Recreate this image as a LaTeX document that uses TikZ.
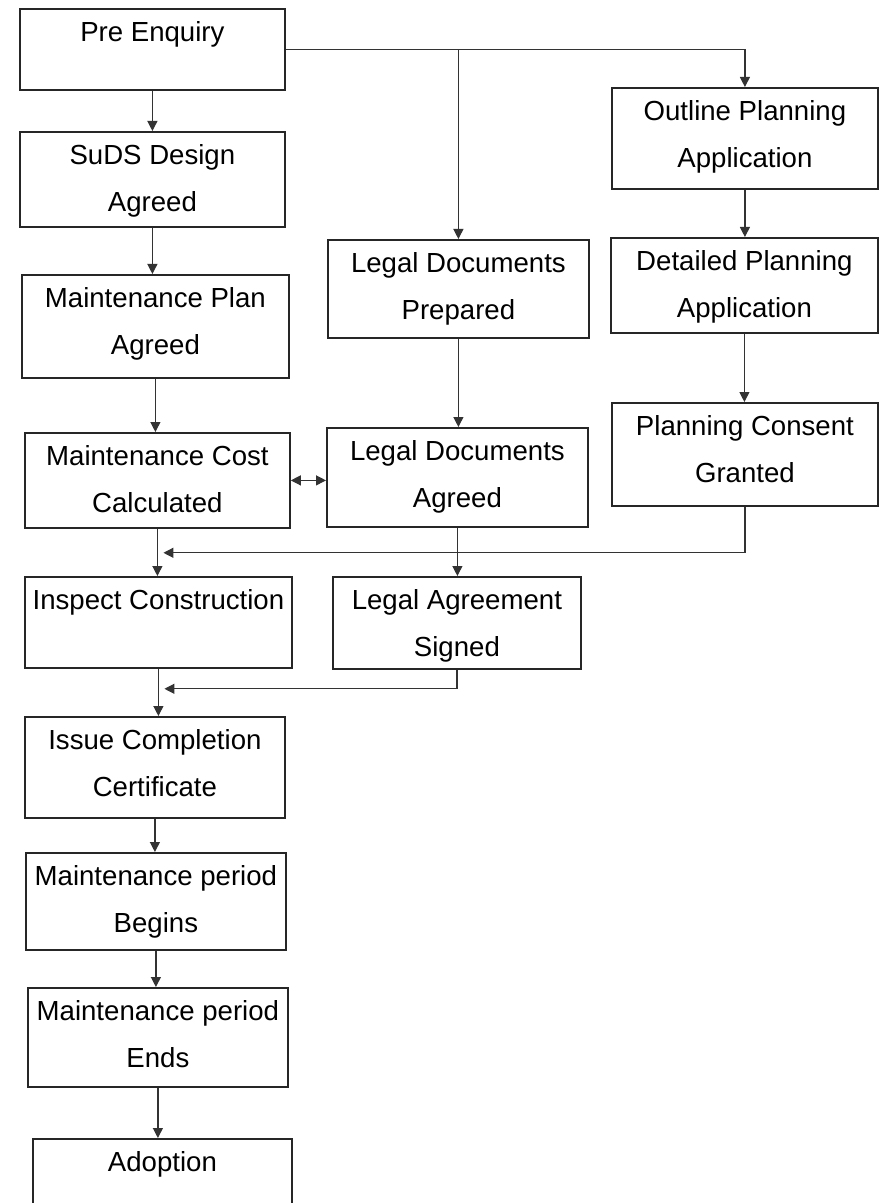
\documentclass[tikz,border=0pt]{standalone}
\usepackage{fontspec}
\setmainfont{Liberation Sans}
\usetikzlibrary{arrows.meta}

\tikzset{
	stage/.style={draw=black!85, line width=0.9pt, inner sep=0pt, align=flush center,
		anchor=north west, text height=16.3pt,
		font=\fontsize{13.8pt}{23.5pt}\selectfont},
	flow/.style={draw=black!80, line width=0.6pt, ->},
	>={Triangle[length=5pt,width=5pt]}
}

\begin{document}
\begin{tikzpicture}[x=0.5pt, y=-0.5pt]
	\useasboundingbox (0,0) rectangle (879,1203);
	\clip (0,0) rectangle (879,1203);
	% linke Spalte
	\node[stage, text width=132.5pt, text depth=24.2pt] (pre) at (19,8) {Pre Enquiry};
	\node[stage, text width=132.5pt, text depth=31.2pt] (suds) at (19,131) {SuDS Design\\Agreed};
	\node[stage, text width=133.5pt, text depth=35.2pt] (plan) at (21,274) {Maintenance Plan\\Agreed};
	\node[stage, text width=132.5pt, text depth=31.2pt] (cost) at (24,432) {Maintenance Cost\\Calculated};
	\node[stage, text width=133.5pt, text depth=29.2pt] (inspect) at (24,576) {Inspect Construction};
	\node[stage, text width=130pt, text depth=34.2pt] (certificate) at (24,716) {Issue Completion\\Certificate};
	\node[stage, text width=130pt, text depth=32.2pt] (begins) at (25,852) {Maintenance period\\Begins};
	\node[stage, text width=130pt, text depth=33.2pt] (ends) at (27,987) {Maintenance period\\Ends};
	\node[stage, text width=129.5pt, text depth=22.2pt] (adoption) at (32,1138) {Adoption};
	% mittlere Spalte
	\node[stage, text width=130.5pt, text depth=32.7pt] (prepared) at (327,239) {Legal Documents\\Prepared};
	\node[stage, text width=130.5pt, text depth=33.2pt] (agreed) at (326,427) {Legal Documents\\Agreed};
	\node[stage, text width=124pt, text depth=29.7pt] (signed) at (332,576) {Legal Agreement\\Signed};
	% rechte Spalte
	\node[stage, text width=133pt, text depth=34.2pt] (outline) at (611,87) {Outline Planning\\Application};
	\node[stage, text width=133.5pt, text depth=31.2pt] (detailed) at (610,237) {Detailed Planning\\Application};
	\node[stage, text width=133pt, text depth=35.2pt] (consent) at (611,402) {Planning Consent\\Granted};
	% Pfeile links
	\draw[flow] (pre) -- (suds);
	\draw[flow] (suds.south) -- (suds.south |- plan.north);
	\draw[flow] (plan.south) -- (plan.south |- cost.north);
	\draw[flow] (cost.south) -- (cost.south |- inspect.north);
	\draw[flow] (inspect.south) -- (inspect.south |- certificate.north);
	\draw[flow] (certificate.south) -- (certificate.south |- begins.north);
	\draw[flow] (begins.south) -- (begins.south |- ends.north);
	\draw[flow] (ends.south) -- (ends.south |- adoption.north);
	% Verzweigung nach rechts
	\draw[flow] (pre.east) -| (outline.north);
	\draw[flow] (pre.east -| prepared.north) -- (prepared.north);
	\draw[flow] (outline.south) -- (outline.south |- detailed.north);
	\draw[flow] (detailed.south) -- (detailed.south |- consent.north);
	\draw[flow] (prepared.south) -- (prepared.south |- agreed.north);
	\draw[flow] (agreed.south) -- (agreed.south |- signed.north);
	\draw[flow, <->] (cost.east) -- (cost.east -| agreed.west);
	% Zusammenfuehrungen
	\coordinate (mergeA) at ([xshift=3pt, yshift=-12pt]cost.south);
	\coordinate (mergeB) at ([xshift=3pt, yshift=-10pt]inspect.south);
	\draw[flow] (consent.south) |- (mergeA);
	\draw[flow] (signed.south) |- (mergeB);
\end{tikzpicture}
\end{document}
